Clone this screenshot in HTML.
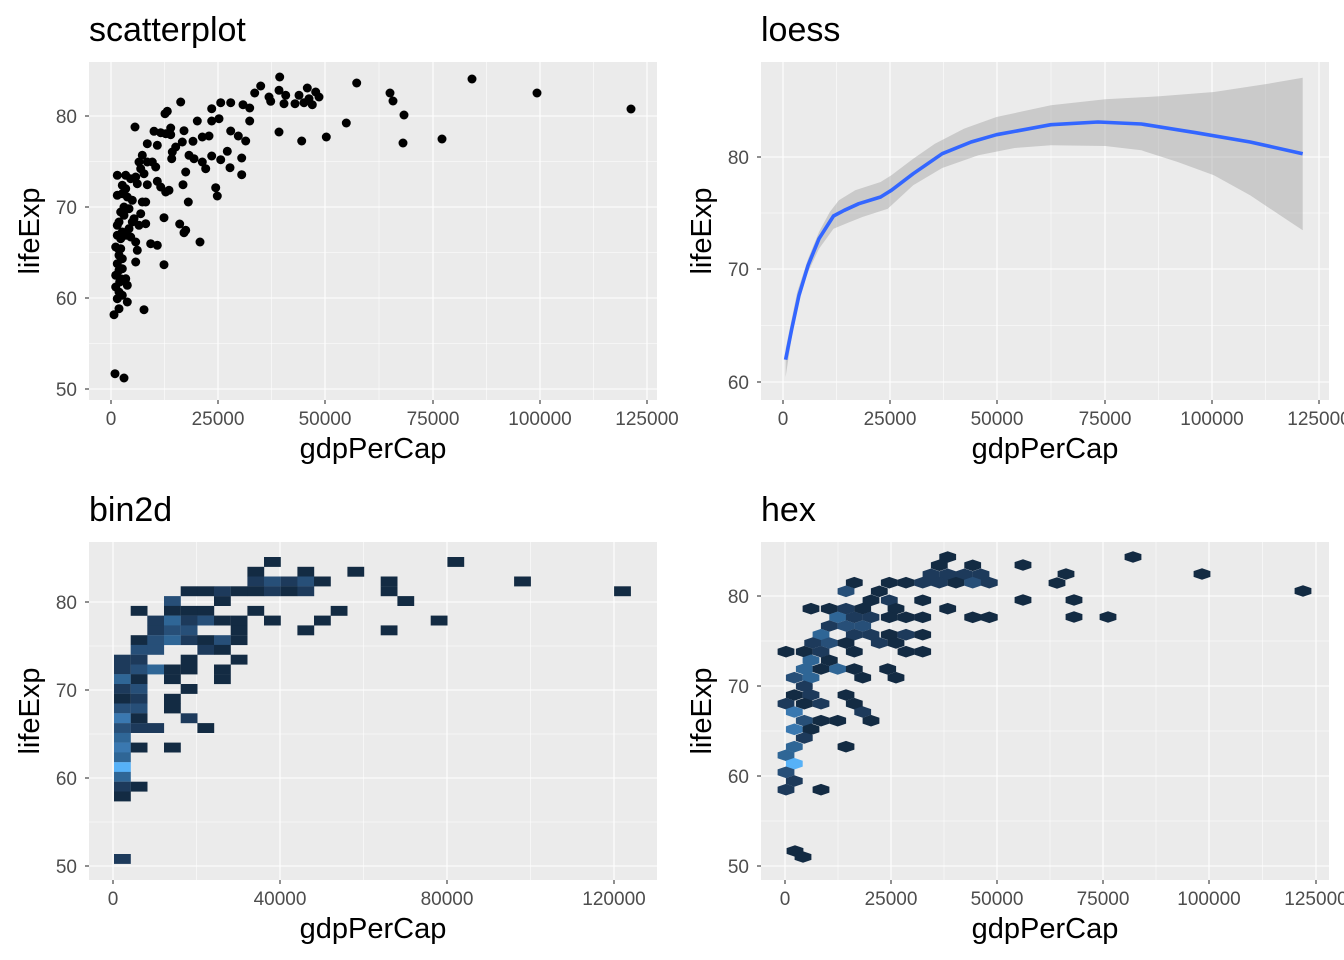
<!DOCTYPE html>
<html><head><meta charset="utf-8"><style>
body{margin:0;background:#fff;}
svg{display:block;}
text{font-family:"Liberation Sans",Arial,sans-serif;}
</style></head><body>
<svg id="s" width="1344" height="960" xmlns="http://www.w3.org/2000/svg"></svg>
<script>
var s=document.getElementById('s'),H='';
function R(x,y,w,h,f){H+='<rect x="'+x+'" y="'+y+'" width="'+w+'" height="'+h+'" fill="'+f+'"/>';}
function L(x1,y1,x2,y2,c,w){H+='<line x1="'+x1+'" y1="'+y1+'" x2="'+x2+'" y2="'+y2+'" stroke="'+c+'" stroke-width="'+w+'"/>';}
function T(x,y,t,sz,c,a,extra){H+='<text x="'+x+'" y="'+y+'" font-size="'+sz+'" fill="'+c+'" text-anchor="'+a+'" '+(extra||'')+'>'+t+'</text>';}
function panel(x0,y0,xt,xl,yt,yl,title){
 var x1=x0+568,y1=y0+338;
 R(x0,y0,568,338,'#EBEBEB');
 for(var i=0;i<xt.length-1;i++){var m=(xt[i]+xt[i+1])/2;L(m,y0,m,y1,'#fff',0.55);}
 for(var i=0;i<yt.length-1;i++){var m=(yt[i]+yt[i+1])/2;L(x0,m,x1,m,'#fff',0.55);}
 var dy=yt[0]-yt[1]; var m0=yt[yt.length-1]-dy/2; if(m0>y0)L(x0,m0,x1,m0,'#fff',0.55);
 for(var i=0;i<xt.length;i++){L(xt[i],y0,xt[i],y1,'#fff',1.1);L(xt[i],y1,xt[i],y1+4,'#333',1.1);T(xt[i],y1+25,xl[i],19,'#4D4D4D','middle');}
 for(var i=0;i<yt.length;i++){L(x0,yt[i],x1,yt[i],'#fff',1.1);L(x0-4,yt[i],x0,yt[i],'#333',1.1);T(x0-12,yt[i]+7,yl[i],19,'#4D4D4D','end');}
 T(x0+284,y1+58,'gdpPerCap',29,'#000','middle');
 T(x0-50,(y0+y1)/2,'lifeExp',29,'#000','middle','transform="rotate(-90 '+(x0-50)+' '+(y0+y1)/2+')"');
 T(x0,y0-21,title,34,'#000','start');
}
var xl5=['0','25000','50000','75000','100000','125000'];
panel(89,62,[111,218,325,433,540,647],xl5,[116,207,298,389],['80','70','60','50'],'scatterplot');
panel(761,62,[783,890,997,1105,1212,1319],xl5,[157,269,382],['80','70','60'],'loess');
panel(89,542,[113,280,447,614],['0','40000','80000','120000'],[602,690,778,866],['80','70','60','50'],'bin2d');
panel(761,542,[785,891,997,1103,1209,1316],xl5,[596,686,776,866],['80','70','60','50'],'hex');
var P=[[572,45],[803,63],[515,72],[497,93],[540,105],[545,118],[570,85],[590,100],[585,125],[618,125],[630,100],[655,78],[680,90],[690,105],[660,110],[670,128],[645,122],
[275,120],[395,122],[425,122],[462,128],[482,138],[368,140],[235,148],[228,155],
[138,195],[325,177],[368,177],[390,170],[482,177],[570,210],[638,237],[712,225],[772,183],
[195,208],[215,212],[230,215],[245,198],[245,218],[285,206],[312,238],[340,225],[360,222],[425,207],[448,222],[470,237],[175,245],[205,250],[280,240],[260,255],[250,270],[248,290],[300,280],[315,290],[340,300],[350,320],[368,282],[395,293],[415,268],[458,288],[423,317],[458,338],[290,330],
[160,280],[150,300],[175,300],[190,300],[200,315],[155,320],[165,335],[140,345],[125,350],[110,340],[85,340],[100,370],[145,365],[175,368],[205,358],[215,375],[240,385],[230,390],[282,368],[380,377],[385,402],[298,420],
[85,400],[100,395],[115,405],[105,435],[130,415],[160,420],[170,420],[155,455],[130,480],[150,490],[170,485],[225,467],[272,486],[285,512],[290,505],[333,540],
[90,480],[85,490],[100,510],[110,520],[125,525],[140,540],[80,555],[95,560],[145,565],[185,545],[205,550],[140,600],[225,608],[90,580],[100,590],[85,605],[90,625],[80,640],[95,650],[80,675],[115,670],[90,690],[85,710],[115,720],[90,740],[75,758],[165,743],
[78,935],[105,948],[95,530],[88,560],[100,620],[92,660],[100,700],[110,650],[85,520],[120,500],[105,460],[95,450],[110,380],[120,440],[135,470]];
for(var i=0;i<P.length;i++)H+='<circle cx="'+(89+P[i][0]/3).toFixed(1)+'" cy="'+(62+P[i][1]/3).toFixed(1)+'" r="4.5" fill="#000"/>';
[[390,93],[393,101],[404,115],[403,143],[442,139],[472,79],[537,93],[631,109]].forEach(function(p){H+='<circle cx="'+p[0]+'" cy="'+p[1]+'" r="4.5" fill="#000"/>';});
var up=[[785.6,348.7],[797.2,292],[808.1,258.7],[819,232],[829.8,212],[838.9,200.3],[855.2,190.3],[880.6,182],[891.4,175.3],[913.2,158.7],[934.9,143.7],[963.9,128.7],[996.5,117],[1050.9,105.3],[1105.2,99.3],[1159.6,96.3],[1213.9,92],[1268.2,83.7],[1302.7,77.7]];
var lo=[[785.6,377],[797.2,302],[808.1,272],[819,248.7],[833.5,228.7],[848,222.7],[862.4,217],[887.8,208.7],[913.2,185.3],[942.2,168],[978.4,155.3],[1014.6,148],[1050.9,145.3],[1105.2,146],[1141.4,150.3],[1177.7,162],[1213.9,175.3],[1250.1,195.3],[1282.7,217],[1302.7,230.3]];
var pts=up.concat(lo.slice().reverse()).map(function(p){return p.join(',')}).join(' ');
H+='<polygon points="'+pts+'" fill="#999" fill-opacity="0.4"/>';
var cv=[[785.6,359.7],[791.8,328.7],[799,295.3],[808.1,265.3],[819,238.7],[833.5,216],[844.3,210.3],[858.8,203.7],[880.6,197],[891.4,190.3],[913.2,173.7],[942.2,153.7],[971.1,142],[996.5,134.7],[1050.9,124.7],[1098,122],[1141.4,124],[1195.8,132.7],[1250.1,142],[1302.7,153.7]];
H+='<polyline points="'+cv.map(function(p){return p.join(',')}).join(' ')+'" fill="none" stroke="#3366FF" stroke-width="3.6" stroke-linejoin="round"/>';
var C={d:'#132B43',a:'#1D3A5B',b:'#274F78',c:'#2F6696',e:'#3A78B0',l:'#56B1F7'};
var B=[[0,9,'d'],[1,8,'d'],[1,11,'d'],[1,14,'d'],[2,8,'a'],[2,9,'b'],[2,10,'a'],[2,11,'b'],[2,12,'d'],[2,16,'d'],
[3,4,'d'],[3,5,'d'],[3,6,'a'],[3,7,'d'],[3,8,'d'],[3,9,'a'],[3,10,'d'],[3,11,'a'],[3,16,'d'],[3,30,'d'],
[4,3,'b'],[4,6,'d'],[4,17,'d'],[0,20,'d'],[2,24,'d'],
[5,1,'d'],[5,3,'d'],[5,4,'d'],[5,5,'d'],[5,8,'d'],[5,13,'d'],
[6,2,'a'],[6,3,'c'],[6,4,'a'],[6,5,'b'],[6,6,'d'],[6,7,'d'],[6,9,'d'],[6,12,'d'],[6,19,'d'],
[7,2,'a'],[7,3,'b'],[7,4,'b'],[7,7,'d'],[7,11,'d'],[7,16,'d'],
[8,1,'d'],[8,2,'b'],[8,3,'c'],[8,4,'a'],[8,5,'d'],[8,6,'b'],[8,7,'d'],
[9,1,'b'],[9,2,'b'],[9,5,'a'],[9,6,'d'],
[10,0,'a'],[10,1,'a'],[10,4,'d'],[10,7,'d'],
[11,0,'a'],[11,1,'b'],[11,2,'c'],[11,3,'d'],[11,4,'d'],[11,6,'d'],
[12,0,'c'],[12,1,'d'],[12,3,'d'],[12,6,'d'],
[13,0,'a'],[13,1,'b'],[13,4,'d'],
[14,0,'d'],[14,1,'a'],[14,3,'d'],
[15,0,'b'],[15,1,'b'],[15,3,'d'],
[16,0,'e'],[16,1,'d'],[16,4,'a'],
[17,0,'b'],[17,1,'a'],[17,2,'a'],[17,5,'d'],
[18,0,'c'],[19,0,'e'],[19,1,'d'],[19,3,'d'],[20,0,'c'],[21,0,'l'],[22,0,'c'],[23,0,'a'],[23,1,'d'],[24,0,'d'],[30.4,0,'a']];
B.forEach(function(b){R((114+16.67*b[1]).toFixed(1),(557+9.77*b[0]).toFixed(1),16.8,9.9,C[b[2]]);});
var X=[[45,560,'d'],[70,535,'d'],[70,635,'d'],
[97,510,'a'],[97,560,'a'],[97,610,'a'],[97,660,'a'],
[122,280,'d'],[122,385,'d'],[122,435,'d'],[122,485,'a'],[122,535,'a'],[122,585,'d'],[122,635,'b'],[122,685,'a'],
[148,255,'b'],[148,355,'d'],[175,330,'d'],[175,385,'a'],[175,485,'d'],
[200,150,'d'],[200,205,'d'],[200,255,'a'],[200,305,'d'],[200,405,'d'],[200,560,'d'],
[226,230,'c'],[226,280,'a'],[226,330,'a'],[226,385,'d'],[226,435,'d'],[226,485,'d'],[226,635,'d'],[226,685,'d'],
[252,205,'a'],[252,255,'b'],[252,305,'b'],
[278,180,'c'],[278,280,'a'],[278,330,'a'],[278,385,'d'],[278,435,'a'],[278,485,'d'],
[303,155,'a'],[303,205,'b'],[303,255,'d'],[303,355,'a'],[303,405,'d'],
[329,75,'d'],[329,130,'d'],[329,180,'a'],[329,280,'d'],[329,435,'d'],[329,485,'d'],
[355,150,'c'],[355,205,'d'],
[381,130,'c'],[381,180,'d'],[381,230,'c'],[381,280,'d'],[381,380,'d'],
[407,100,'b'],[407,150,'c'],[407,305,'d'],[407,405,'d'],
[433,130,'a'],[459,100,'d'],[459,150,'a'],[459,255,'d'],
[485,75,'a'],[485,130,'d'],[485,180,'a'],[485,280,'d'],
[510,100,'e'],[510,305,'a'],
[536,130,'b'],[536,180,'d'],[536,230,'d'],[536,330,'d'],
[562,100,'e'],[562,150,'d'],[588,130,'a'],[614,100,'c'],[614,255,'d'],[640,75,'c'],[665,100,'l'],[691,75,'b'],[717,100,'a'],[743,75,'a'],[743,180,'d']];
function hex(cx,cy,c){var w=8.4,h=5.8,q=2.9;var a=[cx,cy-h,cx+w,cy-q,cx+w,cy+q,cx,cy+h,cx-w,cy+q,cx-w,cy-q],o=[];for(var i=0;i<a.length;i+=2)o.push(a[i].toFixed(1)+','+a[i+1].toFixed(1));H+='<polygon points="'+o.join(' ')+'" fill="'+C[c]+'"/>';}
X.forEach(function(p){hex(761+p[1]/3,542+p[0]/3,p[2]);});
[[1023,565],[1023,600],[1066,574],[1057,583],[1074,600],[1074,617],[1108,617],[1133,557],[1202,574],[1303,591],[795,851],[803,857]].forEach(function(p){hex(p[0],p[1],'d');});
s.innerHTML=H;
</script>
</body></html>
